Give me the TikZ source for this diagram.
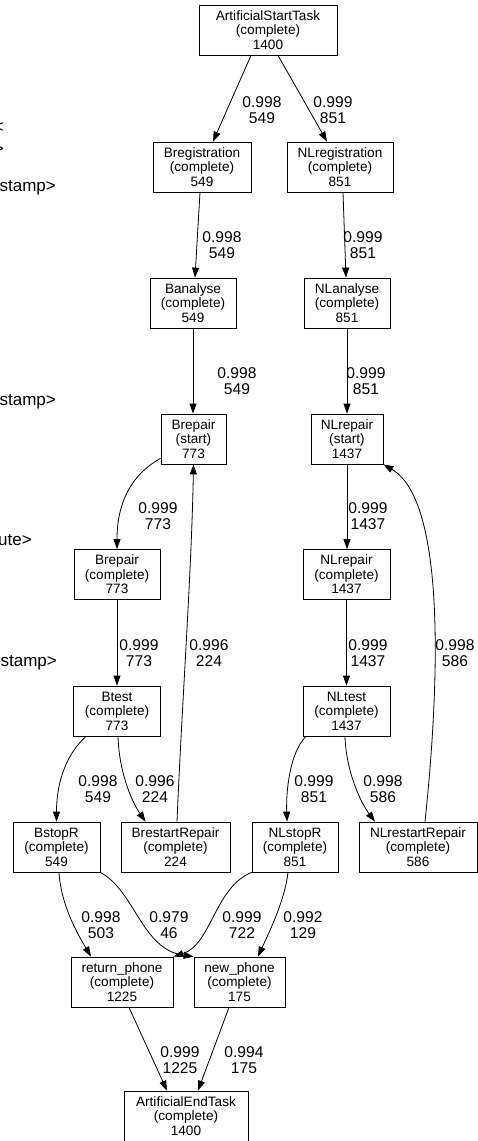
\documentclass[tikz,border=0pt]{standalone}
\usepackage{fontspec}
\setmainfont{Liberation Sans}
\usetikzlibrary{arrows.meta}
\newcommand{\taskfont}{\fontsize{13.6pt}{14.5pt}\selectfont}
\newcommand{\freqfont}{\fontsize{15.6pt}{16.6pt}\selectfont}
\tikzset{
  task/.style={draw, rectangle, align=center, inner sep=1pt, minimum height=50pt, line width=0.8pt, font=\taskfont},
  freq/.style={align=center, inner sep=0pt, font=\freqfont},
  cut/.style={anchor=east, inner sep=0pt, font=\fontsize{17pt}{18pt}\selectfont},
  flow/.style={->, line width=0.8pt},
  >={Triangle[length=10pt,width=7pt]}
}
\begin{document}
\begin{tikzpicture}[x=1pt, y=-1pt]
    \useasboundingbox (0,0) rectangle (477,1141);
    % text cut off at the left edge
    \node[cut] (cut1) at (4,128) {<};
    \node[cut] (cut2) at (4,150) {>};
    \node[cut] (cut3) at (56,188) {stamp>};
    \node[cut] (cut4) at (56,402) {stamp>};
    \node[cut] (cut5) at (32,540) {ute>};
    \node[cut] (cut6) at (57,663) {stamp>};
    % tasks
    \node[task, minimum width=138pt] (ast) at (268,30) {ArtificialStartTask\\(complete)\\1400};
    \node[task, minimum width=98pt] (breg) at (202,167) {Bregistration\\(complete)\\549};
    \node[task, minimum width=106pt] (nlreg) at (340,167) {NLregistration\\(complete)\\851};
    \node[task, minimum width=86pt] (bana) at (193,303) {Banalyse\\(complete)\\549};
    \node[task, minimum width=86pt] (nlana) at (347,303) {NLanalyse\\(complete)\\851};
    \node[task, minimum width=65pt] (brepS) at (193.5,439) {Brepair\\(start)\\773};
    \node[task, minimum width=72pt] (nlrepS) at (347,439) {NLrepair\\(start)\\1437};
    \node[task, minimum width=86pt] (brepC) at (117,574.5) {Brepair\\(complete)\\773};
    \node[task, minimum width=87pt] (nlrepC) at (346.5,574.5) {NLrepair\\(complete)\\1437};
    \node[task, minimum width=87pt] (btest) at (117,711) {Btest\\(complete)\\773};
    \node[task, minimum width=87pt] (nltest) at (346.5,711) {NLtest\\(complete)\\1437};
    \node[task, minimum width=87pt] (bstop) at (56.5,847) {BstopR\\(complete)\\549};
    \node[task, minimum width=109pt] (brest) at (175.5,847) {BrestartRepair\\(complete)\\224};
    \node[task, minimum width=86pt] (nlstop) at (295,847) {NLstopR\\(complete)\\851};
    \node[task, minimum width=118pt] (nlrest) at (418,847) {NLrestartRepair\\(complete)\\586};
    \node[task, minimum width=102pt] (ret) at (122,982) {return\_phone\\(complete)\\1225};
    \node[task, minimum width=91pt] (newp) at (239.5,982) {new\_phone\\(complete)\\175};
    \node[task, minimum width=124pt] (aet) at (186,1116) {ArtificialEndTask\\(complete)\\1400};
    % flows
    \draw[flow] ([xshift=-17pt]ast.south) -- ([xshift=11pt]breg.north);
    \draw[flow] ([xshift=10pt]ast.south) -- ([xshift=-13pt]nlreg.north);
    \draw[flow] ([xshift=-2pt]breg.south) -- ([xshift=2pt]bana.north);
    \draw[flow] ([xshift=3pt]nlreg.south) -- ([xshift=-1pt]nlana.north);
    \draw[flow] (bana.south) -- (bana.south |- brepS.north);
    \draw[flow] (nlana.south) -- (nlrepS.north);
    \draw[flow] ([yshift=6pt]brepS.south west) .. controls +(-31,17) and +(0,-44) .. (brepC.north);
    \draw[flow] (nlrepS.south) -- (nlrepS.south |- nlrepC.north);
    \draw[flow] (brepC.south) -- (btest.north);
    \draw[flow] (nlrepC.south) -- (nltest.north);
    \draw[flow] ([xshift=1.5pt]brest.north) .. controls +(5,-120) and +(-2,110) .. (brepS.south);
    \draw[flow] ([xshift=7pt]nlrest.north) .. controls +(15,-142) and +(62,36) .. (nlrepS.south east);
    \draw[flow] ([xshift=-31pt]btest.south) .. controls +(-18,16) and +(0,-42) .. (bstop.north);
    \draw[flow] ([xshift=1pt]btest.south) .. controls +(1,34) and +(-15,-22) .. ([xshift=-30pt]brest.north);
    \draw[flow] ([xshift=-40.5pt]nltest.south) .. controls +(-16,16) and +(-1,-32) .. ([xshift=-8pt]nlstop.north);
    \draw[flow] ([xshift=-1.5pt]nltest.south) .. controls +(1,34) and +(-15,-20) .. ([xshift=-43pt]nlrest.north);
    \draw[flow] ([xshift=2.5pt]bstop.south) .. controls +(2,33) and +(-13,-22) .. ([xshift=-31pt]ret.north);
    \draw[flow] (bstop.south east) .. controls +(35,19) and +(-52,-7) .. (newp.north west);
    \draw[flow] (nlstop.south west) .. controls +(-37,15) and +(38,-12) .. (ret.north east);
    \draw[flow] ([xshift=-7pt]nlstop.south) .. controls +(-3,28) and +(10,-22) .. ([xshift=18.5pt]newp.north);
    \draw[flow] ([xshift=7pt]ret.south) -- ([xshift=-19pt]aet.north);
    \draw[flow] ([xshift=-10.5pt]newp.south) -- ([xshift=12pt]aet.north);
    % frequencies
    \node[freq] (f1) at (262,110) {0.998\\549};
    \node[freq] (f2) at (333,110) {0.999\\851};
    \node[freq] (f3) at (222,245) {0.998\\549};
    \node[freq] (f4) at (363,245) {0.999\\851};
    \node[freq] (f5) at (237,381) {0.998\\549};
    \node[freq] (f6) at (366,381) {0.999\\851};
    \node[freq] (f7) at (158,516) {0.999\\773};
    \node[freq] (f8) at (368,516) {0.999\\1437};
    \node[freq] (f9) at (139,653) {0.999\\773};
    \node[freq] (f10) at (209,653) {0.996\\224};
    \node[freq] (f11) at (368,653) {0.999\\1437};
    \node[freq] (f12) at (455,653) {0.998\\586};
    \node[freq] (f13) at (98,789) {0.998\\549};
    \node[freq] (f14) at (155,789) {0.996\\224};
    \node[freq] (f15) at (314,789) {0.999\\851};
    \node[freq] (f16) at (383,789) {0.998\\586};
    \node[freq] (f17) at (101,925) {0.998\\503};
    \node[freq] (f18) at (169,925) {0.979\\46};
    \node[freq] (f19) at (242,925) {0.999\\722};
    \node[freq] (f20) at (303,925) {0.992\\129};
    \node[freq] (f21) at (180,1060) {0.999\\1225};
    \node[freq] (f22) at (244,1060) {0.994\\175};
\end{tikzpicture}
\end{document}
